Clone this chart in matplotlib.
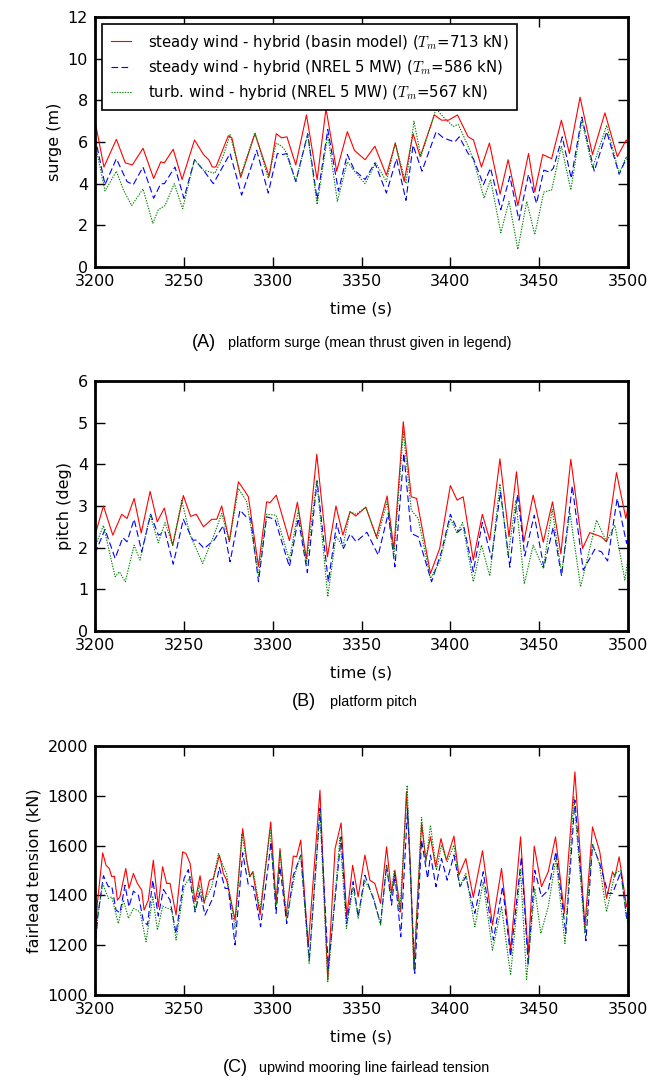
import matplotlib
matplotlib.use("Agg")
import matplotlib.pyplot as plt

plt.rcParams['font.family'] = 'DejaVu Sans'
plt.rcParams['mathtext.fontset'] = 'cm'

labels = [
    "steady wind - hybrid (basin model) ($T_m$=713 kN)",
    "steady wind - hybrid (NREL 5 MW) ($T_m$=586 kN)",
    "turb. wind - hybrid (NREL 5 MW) ($T_m$=567 kN)",
]

# ---- (A) platform surge (m) ----
surge_t_basin = [3200, 3205, 3212, 3217, 3221, 3227, 3233, 3237, 3239, 3244, 3249, 3256, 3261, 3264, 3266, 3268,
                 3275, 3277, 3282, 3290, 3298, 3302, 3305, 3308, 3313, 3319, 3325, 3330, 3336, 3342, 3346, 3352,
                 3357.5, 3364, 3369, 3374, 3379, 3383, 3391, 3395, 3399, 3404, 3410, 3413, 3417.5, 3422, 3428,
                 3432.5, 3438, 3444, 3447.5, 3452, 3457, 3462.5, 3467, 3473, 3480, 3487, 3494, 3499, 3500]
surge_basin = [7.0, 4.8, 6.13, 5.0, 4.9, 5.7, 4.25, 5.05, 5.0, 5.65, 4.2, 6.1, 5.4, 5.15, 4.8, 4.8,
               6.3, 6.2, 4.3, 6.4, 4.35, 6.4, 6.2, 6.25, 4.9, 7.3, 4.2, 7.6, 4.6, 6.5, 5.6, 5.15,
               5.8, 4.4, 5.95, 4.1, 6.4, 5.3, 7.3, 7.05, 7.05, 7.3, 6.25, 6.1, 4.8, 5.95, 3.5,
               5.15, 2.95, 5.45, 3.6, 5.4, 5.2, 7.05, 5.45, 8.15, 5.4, 7.4, 5.3, 6.1, 5.95]

surge_t_nrel = [3200, 3205.6, 3212, 3218, 3221.5, 3227, 3233, 3237, 3239, 3245, 3250, 3256, 3261, 3266.6, 3276,
                3282.5, 3291, 3297.5, 3302.6, 3305.6, 3308, 3313, 3319.7, 3325, 3331, 3337, 3342, 3346, 3352,
                3357.5, 3364, 3369.7, 3375, 3379, 3384, 3392, 3396, 3402.5, 3405, 3410, 3413, 3418.6, 3422.6,
                3428.4, 3433.5, 3438.6, 3444, 3448.5, 3452.6, 3456, 3458, 3463, 3468, 3474, 3481, 3488, 3495,
                3499, 3500]
surge_nrel = [6.25, 3.95, 5.2, 4.1, 3.95, 4.8, 3.3, 4.0, 4.0, 4.8, 3.3, 5.15, 4.65, 4.0, 5.45,
              3.45, 5.6, 3.55, 5.45, 5.4, 5.45, 4.1, 6.4, 3.25, 6.6, 3.65, 5.4, 4.65, 4.2,
              5.0, 3.55, 5.2, 3.2, 5.85, 4.6, 6.5, 6.2, 6.0, 6.25, 5.45, 5.2, 3.95, 4.75,
              2.75, 4.35, 2.25, 4.45, 3.05, 4.65, 4.55, 4.75, 6.25, 4.25, 7.2, 4.6, 6.5, 4.45,
              5.2, 5.15]

surge_t_turb = [3200, 3205.6, 3212, 3216, 3220.6, 3227, 3232.5, 3235.6, 3239.4, 3244.6, 3249.3, 3256, 3261,
                3267.5, 3272, 3276, 3282, 3290, 3297.5, 3302, 3305, 3307, 3313, 3319.7, 3325, 3331, 3336.4,
                3342, 3346, 3352, 3358, 3364, 3369, 3375, 3379.5, 3383.4, 3392, 3396, 3401.6, 3404.4, 3410,
                3413, 3419, 3422.6, 3428.4, 3433, 3438, 3443, 3447.5, 3452.6, 3457, 3462.5, 3467.8, 3474,
                3480, 3488, 3495, 3499, 3500]
surge_turb = [5.95, 3.65, 4.6, 3.7, 2.95, 3.75, 2.1, 2.75, 2.95, 4.0, 2.8, 5.15, 4.65,
              4.5, 5.3, 6.35, 4.4, 6.45, 4.25, 5.95, 5.8, 5.6, 4.1, 6.35, 3.0, 6.35, 3.15,
              5.05, 4.6, 4.0, 5.0, 4.1, 5.95, 4.0, 7.0, 5.3, 7.6, 7.2, 6.75, 6.85, 5.8,
              5.15, 3.3, 4.2, 1.65, 3.15, 0.85, 3.15, 1.55, 3.6, 3.7, 5.8, 3.7, 7.05,
              4.75, 6.8, 4.5, 5.3, 5.2]

# ---- (B) platform pitch (deg) ----
pitch_t_basin = [3200, 3204.7, 3210, 3215, 3218, 3222, 3226, 3231, 3235, 3239, 3243.7, 3249.7, 3253.8, 3257,
                 3261, 3265.7, 3268.5, 3271.3, 3275.6, 3280.7, 3284.4, 3286.3, 3292, 3296.6, 3298.5, 3302,
                 3309.4, 3313.9, 3319, 3324.8, 3330.8, 3335.6, 3339.5, 3343.5, 3346.8, 3352.4, 3358.4, 3364.4,
                 3368.2, 3373.5, 3378, 3381, 3388.8, 3394, 3400, 3403.8, 3407.2, 3412.9, 3418, 3422.2, 3427.9,
                 3433, 3437.2, 3441.3, 3446.6, 3452.3, 3457.5, 3462.2, 3467.8, 3474.4, 3478.5, 3485, 3487.9,
                 3493.5, 3498.8, 3500]
pitch_basin = [2.3, 3.0, 2.3, 2.8, 2.7, 3.18, 2.35, 3.35, 2.62, 2.95, 2.05, 3.25, 2.75, 2.8,
               2.5, 2.68, 2.68, 3.0, 2.15, 3.58, 3.35, 3.22, 1.55, 3.1, 3.08, 3.26,
               2.17, 3.09, 1.73, 4.24, 1.78, 3.0, 2.3, 2.86, 2.76, 2.97, 2.26, 3.24,
               1.96, 5.02, 3.22, 3.18, 1.38, 1.98, 3.49, 3.14, 3.22, 1.7, 2.8, 2.18, 4.13,
               2.26, 3.82, 2.13, 3.26, 2.13, 3.1, 1.85, 4.12, 1.98, 2.36, 2.26, 2.14,
               3.8, 2.7, 2.98]

pitch_t_nrel = [3200, 3205.6, 3211.3, 3215.6, 3218, 3222, 3226.3, 3231.3, 3235.6, 3239.4, 3244, 3249.7, 3255,
                3257, 3261.4, 3267, 3272.2, 3276, 3281.6, 3285, 3287.6, 3292, 3296.6, 3301.3, 3309.4, 3314.4,
                3319.5, 3325, 3331.3, 3336, 3339.8, 3343.6, 3347, 3353, 3359.4, 3365, 3368.8, 3373.8, 3378,
                3381.9, 3389.4, 3395, 3400, 3404.4, 3407.6, 3412.9, 3418, 3423.2, 3428.2, 3433.5, 3437.8,
                3441.9, 3447.2, 3452.6, 3457.9, 3462.6, 3468.6, 3474.8, 3481.3, 3485, 3488.5, 3493.9, 3499.2,
                3500]
pitch_nrel = [1.86, 2.44, 1.74, 2.24, 2.14, 2.68, 1.9, 2.8, 2.3, 2.38, 1.6, 2.68, 2.18,
              2.18, 1.98, 2.18, 2.53, 1.66, 2.9, 2.74, 2.7, 1.18, 2.74, 2.68, 1.54, 2.7,
              1.4, 3.6, 1.18, 2.58, 1.98, 2.33, 2.14, 2.37, 1.82, 2.82, 1.54, 4.26, 2.34,
              2.26, 1.18, 1.9, 2.8, 2.38, 2.5, 1.42, 2.6, 1.74, 3.34, 1.53, 3.28,
              1.8, 2.78, 1.53, 2.49, 1.32, 3.48, 1.46, 1.96, 1.9, 1.68, 3.18, 2.1,
              2.26]

pitch_t_turb = [3200, 3204.7, 3211.3, 3213.7, 3217, 3222, 3225.3, 3231, 3235.6, 3239.4, 3243.7, 3248.8, 3253.5,
                3260.6, 3266.6, 3271.3, 3275.6, 3280.7, 3285.4, 3292, 3296.6, 3301.9, 3309.4, 3314.4, 3319,
                3324.8, 3331, 3335.6, 3339.5, 3343.5, 3347, 3352.4, 3358.8, 3364.4, 3368.2, 3373.5, 3378,
                3381.9, 3388.8, 3394, 3400, 3403.8, 3406.8, 3412.9, 3417.5, 3422.2, 3427.9, 3432.5, 3436.9,
                3441.6, 3446.6, 3452.3, 3457.3, 3462.6, 3467.3, 3473.3, 3482.3, 3487.9, 3492.6, 3498.2, 3500]
pitch_turb = [2.02, 2.53, 1.3, 1.42, 1.18, 2.06, 1.7, 2.78, 2.12, 2.6, 2.06, 3.13, 2.3,
              1.62, 2.26, 2.82, 2.14, 3.42, 3.1, 1.34, 2.8, 2.78, 1.7, 2.89, 1.62,
              3.62, 0.82, 2.28, 2.02, 2.86, 2.8, 2.97, 2.2, 3.1, 1.78, 4.78, 2.9,
              2.7, 1.26, 1.66, 2.7, 2.34, 2.6, 1.18, 2.06, 1.32, 3.53, 1.8, 3.14,
              1.13, 2.06, 1.5, 2.92, 1.38, 2.84, 1.06, 2.66, 2.14, 2.54, 1.22, 1.74]

# ---- (C) upwind mooring line fairlead tension (kN) ----
tens_t_basin = [3200, 3201.3, 3204.3, 3206.2, 3208, 3209.4, 3210.9, 3212.6, 3214, 3217.3, 3219.1, 3221.6, 3223.8,
                3226.3, 3227.6, 3230, 3232.8, 3235.6, 3238, 3240.3, 3242.2, 3245.6, 3249.3, 3251.2, 3253.5,
                3256.3, 3259.1, 3261.4, 3264.4, 3266.6, 3270, 3272.2, 3274.1, 3278.8, 3283.1, 3285.4, 3287.2,
                3288.7, 3292.9, 3298.9, 3301.9, 3304.1, 3307.5, 3311.6, 3313.5, 3315.8, 3320, 3326.6, 3331,
                3335.1, 3338.5, 3341.7, 3345, 3348.1, 3351.9, 3354.7, 3357.5, 3360.7, 3364.1, 3366.9, 3368.8,
                3372, 3375.3, 3377.6, 3379.5, 3383.8, 3386.2, 3388.8, 3391.7, 3394.7, 3397.8, 3402, 3404.8,
                3408.7, 3412.9, 3418.1, 3423.7, 3428.8, 3433.9, 3439.5, 3443.8, 3447.2, 3451.3, 3455.1,
                3459.2, 3464.1, 3470.1, 3475.7, 3480, 3484.1, 3487.9, 3491.3, 3492.6, 3495, 3499.2, 3500]
tens_basin = [1214, 1368, 1571, 1521, 1508, 1475, 1477, 1381, 1394, 1508, 1428, 1488, 1448,
              1421, 1341, 1381, 1541, 1354, 1515, 1448, 1448, 1321, 1575, 1568, 1528,
              1374, 1479, 1368, 1461, 1468, 1562, 1488, 1461, 1301, 1668, 1541, 1475,
              1495, 1321, 1695, 1368, 1588, 1314, 1558, 1555, 1622, 1194, 1822, 1060,
              1588, 1691, 1314, 1521, 1394, 1562, 1461, 1448, 1368, 1595, 1408, 1501,
              1334, 1816, 1501, 1107, 1689, 1541, 1635, 1515, 1628, 1541, 1638, 1481,
              1548, 1392, 1579, 1281, 1508, 1180, 1635, 1160, 1598, 1435, 1495,
              1635, 1328, 1896, 1274, 1675, 1575, 1388, 1495, 1475, 1555, 1354, 1374]

tens_t_nrel = [3200, 3201.5, 3204.7, 3207.5, 3209.4, 3211.8, 3214, 3216.9, 3219.1, 3221.6, 3224.4, 3227.2,
               3229.5, 3232.5, 3235.6, 3238.5, 3242.2, 3245.6, 3250.1, 3252.5, 3256.3, 3259.1, 3261.9, 3266.6,
               3270, 3273.2, 3275, 3278.8, 3283.1, 3286.3, 3289.1, 3293.2, 3299.1, 3301.9, 3304.1, 3307.9,
               3311.6, 3315.8, 3320.6, 3326.6, 3331.3, 3338.5, 3341.6, 3345.3, 3348.1, 3351.9, 3356.6,
               3360.7, 3364.1, 3366.9, 3368.8, 3372.1, 3375.9, 3380, 3383.8, 3387.2, 3388.8, 3391.9, 3395,
               3398.2, 3402, 3405.4, 3408.7, 3413.8, 3418.5, 3424.2, 3429.4, 3433.9, 3440, 3443.8, 3447.5,
               3451.3, 3455.1, 3459.4, 3465, 3470.1, 3476.3, 3480, 3484.1, 3488.8, 3491.3, 3496, 3499.5, 3500]
tens_nrel = [1187, 1314, 1479, 1435, 1437, 1341, 1330, 1441, 1354, 1417, 1401, 1298,
             1281, 1461, 1317, 1424, 1381, 1247, 1468, 1504, 1334, 1414, 1321, 1394,
             1512, 1428, 1428, 1201, 1571, 1441, 1435, 1274, 1615, 1328, 1515, 1287,
             1481, 1562, 1140, 1749, 1107, 1635, 1287, 1455, 1314, 1481, 1388,
             1287, 1521, 1361, 1481, 1234, 1749, 1087, 1622, 1468, 1562, 1435, 1548,
             1461, 1562, 1435, 1475, 1328, 1495, 1221, 1435, 1154, 1555, 1120, 1501,
             1394, 1421, 1575, 1247, 1782, 1218, 1602, 1528, 1408, 1408, 1495, 1294, 1301]

tens_t_turb = [3200, 3201.5, 3204.3, 3207.5, 3209.4, 3213.1, 3216, 3218.8, 3221.6, 3225.3, 3228.7, 3232.5,
               3235.1, 3238.1, 3243.2, 3245.6, 3250.1, 3253.8, 3256.3, 3258.7, 3261.4, 3265.7, 3269.4, 3274.1,
               3278.8, 3282.6, 3286.9, 3289.1, 3292.9, 3298.5, 3301.9, 3304.1, 3307.9, 3312.6, 3315.8, 3320.5,
               3326.6, 3331, 3337.9, 3341.5, 3345.3, 3348.1, 3351.9, 3356.6, 3360.7, 3364.1, 3366.6, 3368.4,
               3371.6, 3375.7, 3379.5, 3383.8, 3386.2, 3388.8, 3392.2, 3395, 3398.2, 3402, 3405.4, 3408.7,
               3413.8, 3418.5, 3423.7, 3428.8, 3433.9, 3439.5, 3442.9, 3447.5, 3450.9, 3455.1, 3459.4, 3464.5,
               3469.5, 3475.7, 3480, 3483.8, 3487.9, 3492.6, 3495.8, 3499.2, 3500]
tens_turb = [1180, 1314, 1448, 1388, 1394, 1287, 1381, 1308, 1348, 1334, 1214, 1394,
             1261, 1357, 1341, 1221, 1435, 1477, 1334, 1441, 1374, 1435, 1568, 1485,
             1267, 1648, 1475, 1495, 1341, 1661, 1361, 1575, 1308, 1488, 1562, 1127,
             1735, 1053, 1635, 1267, 1435, 1308, 1461, 1394, 1281, 1521, 1401, 1501,
             1330, 1842, 1100, 1713, 1535, 1682, 1501, 1602, 1535, 1602, 1435, 1488,
             1274, 1455, 1180, 1354, 1080, 1501, 1063, 1428, 1247, 1354, 1548, 1207,
             1796, 1247, 1608, 1528, 1334, 1488, 1501, 1308, 1314]

panels = [
    dict(rect=[0.146, 0.7523, 0.8187, 0.2319], ylim=(0, 12), yticks=range(0, 13, 2), ylabel="surge (m)",
         data=[(surge_t_basin, surge_basin), (surge_t_nrel, surge_nrel), (surge_t_turb, surge_turb)],
         tag="(A)", caption="platform surge (mean thrust given in legend)", cap_x=(0.294, 0.350), cap_y=0.682),
    dict(rect=[0.146, 0.4147, 0.8187, 0.2319], ylim=(0, 6), yticks=range(0, 7), ylabel="pitch (deg)",
         data=[(pitch_t_basin, pitch_basin), (pitch_t_nrel, pitch_nrel), (pitch_t_turb, pitch_turb)],
         tag="(B)", caption="platform pitch", cap_x=(0.449, 0.507), cap_y=0.349),
    dict(rect=[0.146, 0.0770, 0.8187, 0.2310], ylim=(1000, 2000), yticks=range(1000, 2001, 200),
         ylabel="fairlead tension (kN)",
         data=[(tens_t_basin, tens_basin), (tens_t_nrel, tens_nrel), (tens_t_turb, tens_turb)],
         tag="(C)", caption="upwind mooring line fairlead tension", cap_x=(0.342, 0.398), cap_y=0.0095),
]

styles = [dict(color="red", ls="-"), dict(color="blue", ls=(0, (6, 3))), dict(color="green", ls=(0, (1.2, 1.2)))]

fig = plt.figure(figsize=(6.51, 10.78), dpi=100)

for i, p in enumerate(panels):
    ax = fig.add_axes(p["rect"])
    for (t, v), st, lab in zip(p["data"], styles, labels):
        ax.plot(t, v, lw=0.8, label=lab, **st)
    ax.set_xlim(3200, 3500)
    ax.set_ylim(*p["ylim"])
    ax.set_xticks(range(3200, 3501, 50))
    ax.set_yticks(list(p["yticks"]))
    ax.tick_params(direction="in", top=True, right=True, length=7, width=1, labelsize=11.5, pad=5)
    for s in ax.spines.values():
        s.set_linewidth(2)
    ax.set_xlabel("time (s)", fontsize=11.5, labelpad=9)
    ax.set_ylabel(p["ylabel"], fontsize=11.5)
    if i == 0:
        leg = ax.legend(loc="upper left", fontsize=10.7, handlelength=1.4, handletextpad=1.1,
                        labelspacing=0.42, borderpad=0.55, fancybox=False, framealpha=1,
                        borderaxespad=0.5, bbox_to_anchor=(0.0, 1.0))
        leg.get_frame().set_edgecolor("black")
        leg.get_frame().set_linewidth(1.2)
    fig.text(p["cap_x"][0], p["cap_y"], p["tag"], fontsize=13, family="Liberation Sans", va="center")
    fig.text(p["cap_x"][1], p["cap_y"], p["caption"], fontsize=10.4, family="Liberation Sans", va="center")

fig.savefig("out.png", dpi=100)
